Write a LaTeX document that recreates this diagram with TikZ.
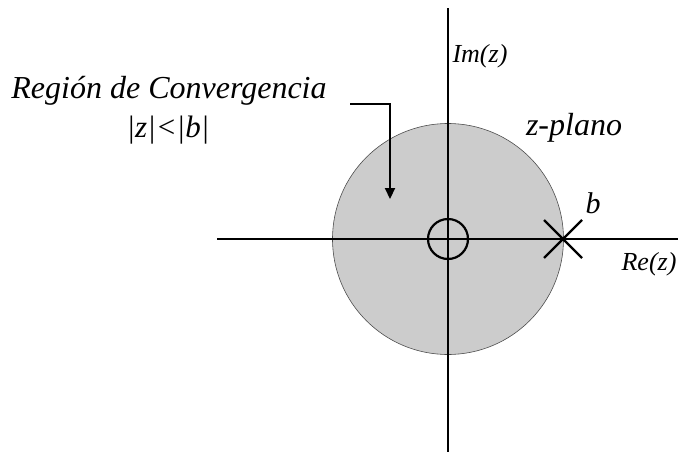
\documentclass[tikz,border=0pt]{standalone}
\usepackage{fontspec}
\setmainfont{Liberation Serif}[ItalicFont={Liberation Serif Italic}, BoldFont={Liberation Serif Bold}]
\newfontfamily\timesit{Liberation Serif Italic}
\usetikzlibrary{arrows.meta,calc}
\begin{document}
\begin{tikzpicture}[x=1pt,y=-1pt,
  axis/.style={line width=2.2pt},
  lbl/.style={inner sep=0pt, anchor=base},
  pointer/.style={line width=2.2pt, -{Triangle[length=11pt,width=10pt]}}]
\useasboundingbox (0,0) rectangle (678,469);
\node[circle, fill=black!20, draw=black!70, line width=0.6pt, minimum size=231pt, inner sep=0pt] (roc) at (448,239) {};
\coordinate (xl) at (217,239);
\coordinate (xr) at (678,239);
\coordinate (yt) at (448,8);
\coordinate (yb) at (448,452);
\draw[axis] (xl) -- (xr);
\draw[axis] (yt) -- (yb);
\node[circle, draw, line width=2.2pt, minimum size=40pt, inner sep=0pt] (zero) at (448,239) {};
\coordinate (pole) at (563,239);
\draw[axis] ($(pole)+(-19,-19)$) -- ($(pole)+(19,19)$);
\draw[axis] ($(pole)+(-19,19)$) -- ($(pole)+(19,-19)$);
\node[lbl, font=\timesit\fontsize{32}{32}\selectfont] (roctext) at (169,98) {Región de Convergencia};
\node[lbl, font=\timesit\fontsize{31}{31}\selectfont] (cond) at (168,137) {|z|<|b|};
\node[lbl, font=\timesit\fontsize{32}{32}\selectfont] (plane) at (574,135) {z-plano};
\node[lbl, font=\timesit\fontsize{30}{30}\selectfont] (b) at (593,213) {b};
\node[lbl, font=\timesit\fontsize{26}{26}\selectfont] (im) at (480,62) {Im(z)};
\node[lbl, font=\timesit\fontsize{26}{26}\selectfont] (re) at (649,270) {Re(z)};
\coordinate (as) at (350,104);
\coordinate (ac) at (390,104);
\coordinate (ae) at (390,199);
\draw[pointer] (as) -- (ac) -- (ae);
\end{tikzpicture}
\end{document}
